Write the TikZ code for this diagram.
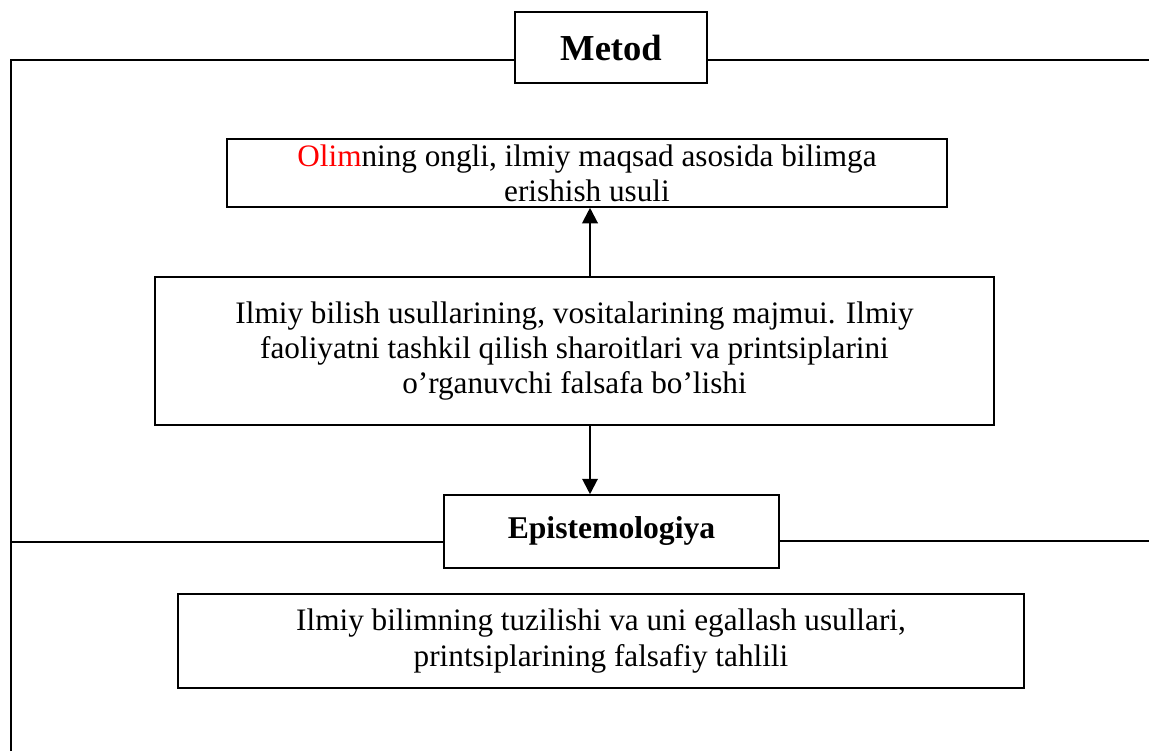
\documentclass[tikz,border=0pt]{standalone}
\usepackage{fontspec}
\setmainfont{Liberation Serif}
\usetikzlibrary{arrows.meta, positioning}

\tikzset{
  blok/.style={draw, line width=1.1pt, fill=white, align=center, inner sep=0pt,
    font=\fontsize{22.2}{25}\selectfont},
  sarlavha/.style={blok, font=\fontsize{22.5}{25}\bfseries\selectfont},
  chiziq/.style={line width=1pt},
  strelka/.style={line width=1.5pt, -{Triangle[length=11pt, width=11pt]}}
}

\begin{document}
\begin{tikzpicture}[x=0.025cm, y=-0.025cm]
		\useasboundingbox (0,0) rectangle (1149,751);
		% Metod
		\node[blok, minimum width=4.8cm, minimum height=1.775cm,
		  font=\fontsize{26}{30}\bfseries\selectfont] (metod) at (611,47.5) {Metod};
		\coordinate (yuqchap) at (11,60);
		\coordinate (yuqong) at (1149,60);
		\coordinate (pastchap) at (11,751);
		\draw[chiziq] (pastchap) -- (yuqchap) -- (yuqchap -| metod.west);
		\draw[chiziq] (yuqong -| metod.east) -- (yuqong);
		% Bloklar
		\node[blok, minimum width=18cm, minimum height=1.7cm] (olim) at (587,173)
		  {\textcolor{red}{Olim}ning ongli, ilmiy maqsad asosida bilimga\\erishish usuli};
		\node[blok, minimum width=20.975cm, minimum height=3.7cm] (majmui) at (574.5,351)
		  {Ilmiy bilish usullarining, vositalarining majmui. Ilmiy\\faoliyatni tashkil qilish sharoitlari va printsiplarini\\o’rganuvchi falsafa bo’lishi};
		% Epistemologiya
		\node[sarlavha, minimum width=8.375cm, minimum height=1.825cm] (epist) at (611.5,531.5) {Epistemologiya};
		\coordinate (ortchap) at (11,542);
		\coordinate (ortong) at (1149,541);
		\draw[chiziq] (ortchap) -- (ortchap -| epist.west);
		\draw[chiziq] (ortong -| epist.east) -- (ortong);
		\node[blok, minimum width=21.15cm, minimum height=2.35cm] (tahlil) at (601,641)
		  {Ilmiy bilimning tuzilishi va uni egallash usullari,\\printsiplarining falsafiy tahlili};
		% Strelkalar
		\draw[strelka] (majmui.north -| 590,0) -- (olim.south -| 590,0);
		\draw[strelka] (majmui.south -| 590,0) -- (epist.north -| 590,0);
	\end{tikzpicture}
\end{document}
